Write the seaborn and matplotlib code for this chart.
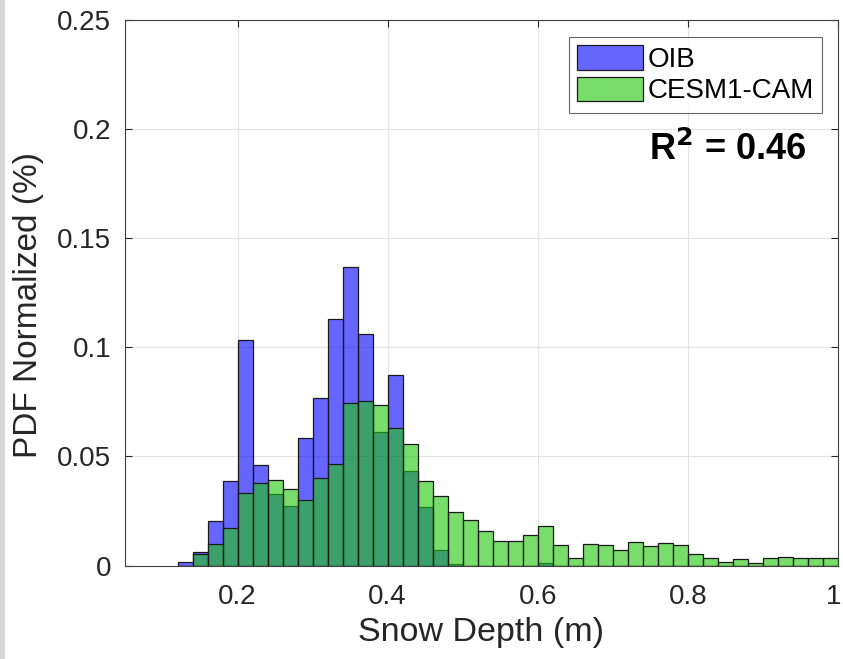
import numpy as np
import pandas as pd
import seaborn as sns
import matplotlib
matplotlib.use("Agg")
import matplotlib.pyplot as plt
import matplotlib.transforms as mtransforms
from matplotlib.patches import Rectangle

# ---- data (bin left edges, bin width 0.02 m) ----
bin_left = [0.12, 0.14, 0.16, 0.18, 0.20, 0.22, 0.24, 0.26, 0.28, 0.30,
            0.32, 0.34, 0.36, 0.38, 0.40, 0.42, 0.44, 0.46, 0.48, 0.50,
            0.52, 0.54, 0.56, 0.58, 0.60, 0.62, 0.64, 0.66, 0.68, 0.70,
            0.72, 0.74, 0.76, 0.78, 0.80, 0.82, 0.84, 0.86, 0.88, 0.90,
            0.92, 0.94, 0.96, 0.98]
bin_width = 0.02

oib = [0.0014, 0.0064, 0.0204, 0.0389, 0.1034, 0.0461, 0.0329, 0.0273, 0.0586, 0.0767,
       0.1129, 0.1366, 0.1063, 0.0610, 0.0872, 0.0435, 0.0268, 0.0069, 0.0009, 0.0,
       0.0, 0.0, 0.0, 0.0, 0.0010, 0.0, 0.0, 0.0, 0.0, 0.0,
       0.0, 0.0, 0.0, 0.0, 0.0, 0.0, 0.0, 0.0, 0.0, 0.0,
       0.0, 0.0, 0.0, 0.0]

cesm = [0.0, 0.0052, 0.0098, 0.0174, 0.0334, 0.0378, 0.0390, 0.0351, 0.0299, 0.0400,
        0.0464, 0.0746, 0.0756, 0.0737, 0.0630, 0.0557, 0.0386, 0.0319, 0.0245, 0.0210,
        0.0159, 0.0114, 0.0114, 0.0140, 0.0181, 0.0095, 0.0033, 0.0100, 0.0095, 0.0069,
        0.0109, 0.0089, 0.0104, 0.0095, 0.0051, 0.0033, 0.0014, 0.0028, 0.0010, 0.0033,
        0.0040, 0.0033, 0.0033, 0.0033]

xticks = [0.2, 0.4, 0.6, 0.8, 1.0]
xticklabels = ["0.2", "0.4", "0.6", "0.8", "1"]
yticks = [0, 0.05, 0.1, 0.15, 0.2, 0.25]
yticklabels = ["0", "0.05", "0.1", "0.15", "0.2", "0.25"]

centers = [b + bin_width / 2 for b in bin_left]
edges = [round(b, 2) for b in bin_left] + [round(bin_left[-1] + bin_width, 2)]
df = pd.DataFrame({"center": centers, "OIB": oib, "CESM1-CAM": cesm})

plt.rcParams["font.family"] = ["Liberation Sans", "DejaVu Sans"]
text_col = "#262626"

fig = plt.figure(figsize=(8.43, 6.59), dpi=100)
fig.patch.set_facecolor("white")
fig.patches.append(Rectangle((0, 0), 5 / 843, 1, transform=fig.transFigure,
                             facecolor="#d6d6d6", edgecolor="none", zorder=0))
ax = fig.add_axes([125 / 843, 1 - 565.5 / 659, (838 - 125) / 843, (565.5 - 20) / 659])

ax.set_axisbelow(True)
ax.grid(True, color="#e3e3e3", linewidth=0.8)

sns.histplot(data=df, x="center", weights="OIB", bins=edges, ax=ax,
             color=(0.0, 0.0, 1.0), alpha=0.6, edgecolor="#1a1a1a",
             linewidth=0.9, label="OIB")
sns.histplot(data=df, x="center", weights="CESM1-CAM", bins=edges, ax=ax,
             color=(0.12, 0.78, 0.03), alpha=0.6, edgecolor="#1a1a1a",
             linewidth=0.9, label="CESM1-CAM")

ax.set_xlim(0.05, 1.0)
ax.set_ylim(0, 0.25)
ax.set_xticks(xticks)
ax.set_xticklabels(xticklabels)
ax.set_yticks(yticks)
ax.set_yticklabels(yticklabels)
ax.tick_params(direction="in", length=5, width=0.8, colors=text_col,
               labelsize=20, top=True, right=True)
ax.tick_params(axis="x", pad=13)
ax.tick_params(axis="y", pad=10)
for s in ax.spines.values():
    s.set_color("#404040")
    s.set_linewidth(0.8)

# nudge the last x tick label slightly inward so it stays inside the image
last = ax.get_xticklabels()[-1]
last.set_transform(last.get_transform() +
                   mtransforms.ScaledTranslation(-4 / 100, 0, fig.dpi_scale_trans))

ax.set_xlabel("Snow Depth (m)", fontsize=24.5, color=text_col, labelpad=5)
ax.set_ylabel("PDF Normalized (%)", fontsize=24, color=text_col)
ax.yaxis.set_label_coords(-0.114, 0.478)

leg = ax.legend(loc="upper right", bbox_to_anchor=(0.978, 0.969), fontsize=20,
                frameon=True, fancybox=False, edgecolor="#404040",
                handlelength=2.35, handleheight=1.0, handletextpad=0.18,
                borderpad=0.3, labelspacing=0.12, borderaxespad=0)
leg.get_frame().set_linewidth(0.8)
for t in leg.get_texts():
    t.set_color("black")

ax.text(0.956, 0.743, "R$^\\mathbf{2}$ = 0.46", transform=ax.transAxes,
        ha="right", va="baseline", fontsize=26, fontweight="bold", color="black")

fig.savefig("out.png", dpi=100)
